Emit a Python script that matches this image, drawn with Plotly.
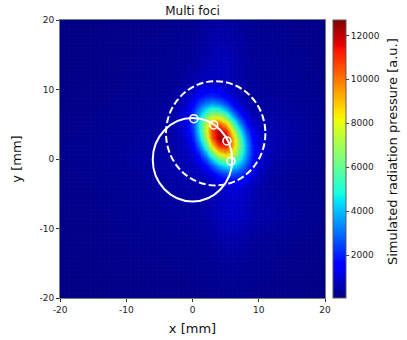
import plotly.graph_objects as go

# grid positions (mm) of the simulated field, finer around the focus
x_mm = [-20, -16, -12, -8, -5, -3, -1, 0, 1, 2, 3, 4, 5, 6, 7, 8, 9, 10, 12, 15, 20]
y_mm = [-20, -16, -12, -8, -6, -4, -3, -2, -1, 0, 1, 2, 3, 4, 5, 6, 7, 8, 9, 11, 14, 17, 20]

# simulated radiation pressure [a.u.], one row per y value
pressure = [
    [110, 120, 130, 140, 150, 160, 170, 170, 180, 180, 190, 200, 210, 210, 200, 190, 180, 170, 160, 140, 120],
    [130, 140, 160, 180, 190, 200, 210, 220, 230, 240, 260, 290, 310, 310, 290, 270, 250, 230, 210, 170, 140],
    [140, 160, 190, 220, 240, 260, 270, 280, 290, 320, 370, 430, 490, 510, 470, 410, 350, 310, 270, 210, 160],
    [150, 180, 220, 270, 310, 350, 370, 390, 420, 490, 590, 710, 804, 855, 817, 717, 570, 490, 490, 350, 190],
    [160, 190, 240, 310, 350, 390, 410, 440, 470, 536, 626, 722, 824, 882, 848, 738, 598, 497, 440, 330, 190],
    [170, 200, 250, 320, 370, 430, 470, 490, 517, 565, 661, 802, 971, 1088, 1055, 895, 682, 516, 370, 290, 190],
    [180, 210, 260, 330, 390, 470, 550, 594, 610, 705, 928, 1251, 1569, 1721, 1600, 1276, 902, 613, 380, 290, 190],
    [190, 220, 270, 350, 430, 530, 648, 679, 763, 1024, 1526, 2178, 2718, 2862, 2510, 1852, 1203, 754, 410, 300, 200],
    [190, 230, 290, 390, 470, 550, 656, 758, 1023, 1633, 2635, 3782, 4565, 4556, 3751, 2577, 1554, 902, 455, 330, 210],
    [200, 240, 310, 410, 470, 535, 676, 911, 1486, 2658, 4355, 6073, 6985, 6578, 5088, 3289, 1869, 1034, 515, 370, 220],
    [200, 240, 310, 410, 450, 500, 720, 1166, 2202, 4080, 6546, 8732, 9509, 8440, 6146, 3749, 2031, 1107, 575, 410, 230],
    [200, 240, 300, 390, 430, 481, 833, 1552, 3110, 5694, 8765, 11083, 11398, 9538, 6553, 3799, 1987, 1089, 610, 440, 240],
    [190, 230, 290, 370, 410, 475, 989, 1998, 4005, 7072, 10339, 12354, 11988, 9463, 6147, 3396, 1733, 980, 615, 450, 240],
    [180, 220, 280, 350, 390, 472, 1144, 2357, 4609, 7743, 10704, 12072, 11062, 8253, 5087, 2707, 1386, 836, 600, 450, 240],
    [170, 210, 260, 330, 370, 468, 1235, 2504, 4693, 7458, 9738, 10359, 8966, 6342, 3738, 1946, 1032, 688, 550, 430, 230],
    [160, 200, 250, 310, 350, 457, 1219, 2371, 4203, 6310, 7774, 7812, 6404, 4317, 2470, 1306, 759, 572, 490, 400, 220],
    [150, 190, 240, 290, 330, 436, 1096, 2013, 3350, 4720, 5487, 5222, 4083, 2659, 1514, 848, 564, 477, 440, 370, 210],
    [140, 180, 220, 270, 310, 406, 914, 1552, 2400, 3169, 3482, 3166, 2403, 1562, 932, 590, 450, 400, 390, 340, 200],
    [130, 170, 210, 250, 290, 370, 717, 1110, 1594, 1967, 2070, 1840, 1410, 971, 650, 468, 390, 360, 350, 310, 190],
    [120, 150, 190, 230, 260, 309, 432, 548, 691, 793, 828, 792, 703, 594, 495, 410, 370, 350, 330, 290, 180],
    [110, 140, 170, 210, 240, 270, 316, 360, 442, 541, 638, 695, 673, 590, 490, 410, 350, 320, 290, 250, 170],
    [100, 130, 160, 190, 210, 240, 270, 310, 370, 450, 530, 570, 550, 490, 410, 350, 310, 280, 250, 220, 160],
    [90, 110, 140, 160, 180, 200, 220, 250, 290, 340, 390, 410, 400, 370, 320, 280, 250, 230, 210, 190, 150],
]

# focal points along the trajectory
foci_x = [0.2, 3.2, 5.2, 5.8]
foci_y = [5.8, 4.9, 2.6, -0.3]

# circles: trajectory (solid) and coverage (dashed)
circle_cx = [0.0, 3.5]
circle_cy = [-0.1, 3.7]
circle_r = [6.0, 7.5]
circle_dash = ["solid", "7px,3px"]

tick_vals = [-20, -10, 0, 10, 20]
tick_text = ["-20", "-10", "0", "10", "20"]
cbar_ticks = [2000, 4000, 6000, 8000, 10000, 12000]

# matplotlib style jet
jet = [
    [0.0, "rgb(0,0,128)"], [0.11, "rgb(0,0,255)"], [0.125, "rgb(0,0,255)"],
    [0.34, "rgb(0,219,255)"], [0.35, "rgb(0,230,247)"], [0.375, "rgb(20,255,226)"],
    [0.64, "rgb(239,255,8)"], [0.65, "rgb(247,245,0)"], [0.66, "rgb(255,236,0)"],
    [0.89, "rgb(255,19,0)"], [0.91, "rgb(232,0,0)"], [1.0, "rgb(128,0,0)"],
]

font = "DejaVu Sans"

fig = go.Figure()
fig.add_trace(go.Heatmap(
    x=x_mm, y=y_mm, z=pressure, zsmooth="best", colorscale=jet,
    zmin=50, zmax=12700, opacity=0.95, hoverinfo="skip",
    colorbar=dict(
        x=1.03, xanchor="left", y=0.5, yanchor="middle", len=1,
        xpad=0, ypad=0,
        thickness=13, outlinewidth=1, outlinecolor="rgb(90,90,90)",
        ticks="outside", ticklen=3, tickvals=cbar_ticks,
        ticktext=[str(v) for v in cbar_ticks],
        tickfont=dict(family=font, size=9, color="#222"),
    ),
))

for cx, cy, r, d in zip(circle_cx, circle_cy, circle_r, circle_dash):
    fig.add_shape(type="circle", xref="x", yref="y",
                  x0=cx - r, x1=cx + r, y0=cy - r, y1=cy + r,
                  line=dict(color="white", width=2, dash=d))

fig.add_trace(go.Scatter(
    x=foci_x, y=foci_y, mode="markers", showlegend=False, hoverinfo="skip",
    marker=dict(symbol="circle-open", size=8, color="white", line=dict(width=1.6, color="white")),
))

# colorbar label
fig.add_annotation(text="Simulated radiation pressure [a.u.]", xref="paper", yref="paper",
                   x=1.253, y=0.525, xanchor="center", yanchor="middle", textangle=-90,
                   showarrow=False, font=dict(family=font, size=13, color="#111"))

axis_common = dict(
    range=[-20, 20], tickvals=tick_vals, ticktext=tick_text,
    ticks="outside", ticklen=3, tickcolor="#333",
    tickfont=dict(family=font, size=9, color="#222"),
    showline=True, mirror=True, linecolor="rgb(120,120,120)", linewidth=1,
    showgrid=False, zeroline=False,
    minor=dict(dtick=40 / 60, tick0=-20, showgrid=True,
               gridcolor="rgba(255,255,255,0.3)", gridwidth=1, ticks=""),
)

fig.update_layout(
    width=407, height=340,
    margin=dict(l=60, r=82, t=20, b=42, autoexpand=False),
    paper_bgcolor="white", plot_bgcolor="rgb(0,0,128)",
    title=dict(text="Multi foci", x=0.5, xref="paper", y=0.9676, yanchor="middle",
               font=dict(family=font, size=12, color="#111")),
    xaxis=dict(**axis_common, title=dict(text="x [mm]", standoff=10,
                                          font=dict(family=font, size=13, color="#111"))),
    yaxis=dict(**axis_common, title=dict(text="y [mm]", standoff=14,
                                          font=dict(family=font, size=13, color="#111"))),
)

# page has a default 8px body margin; drop it so the figure sits at the window corner
fig.write_html("out.html", config={"displayModeBar": False},
               post_script="document.body.style.margin='0';")
